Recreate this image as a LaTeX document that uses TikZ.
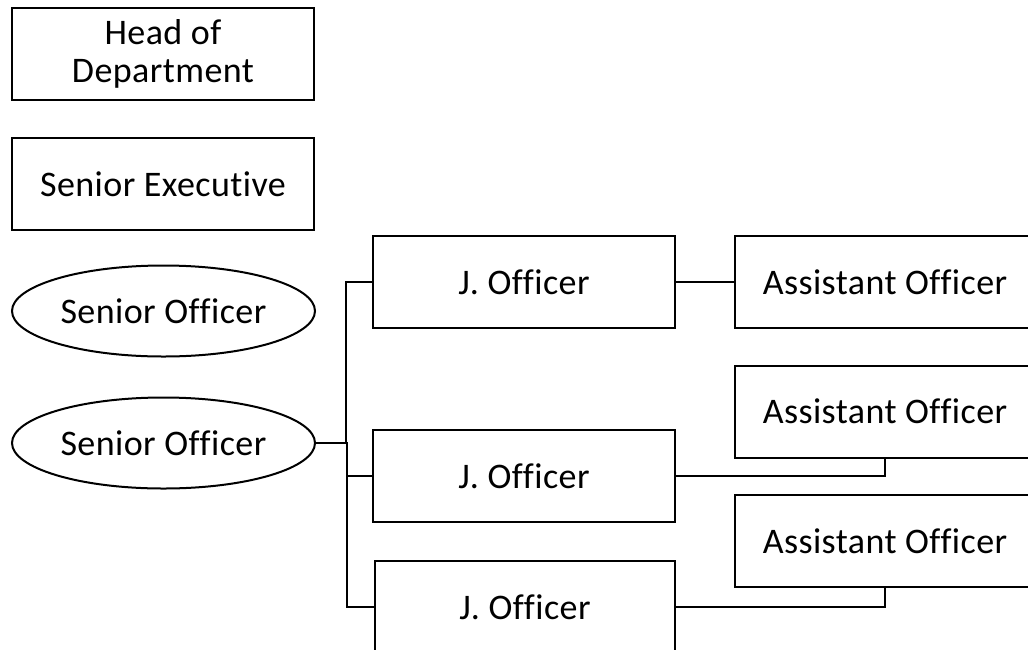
\documentclass[tikz,border=0pt]{standalone}
\usepackage{fontspec}
\setmainfont[Ligatures=NoCommon,LetterSpace=1.2]{Carlito}
\usetikzlibrary{shapes.geometric}
\begin{document}
\begin{tikzpicture}[x=1pt,y=-1pt,
  every node/.style={font=\fontsize{36}{38.5}\selectfont},
  box/.style={draw,line width=2pt,rectangle,inner sep=0pt,minimum width=302pt,minimum height=92pt,align=center},
  oval/.style={draw,line width=2pt,ellipse,inner sep=0pt,minimum width=303pt,minimum height=91pt},
  link/.style={line width=2pt}]
\clip (0,0) rectangle (1028,649);
\fill[white] (0,0) rectangle (1028,649);
\node[box] (hod) at (163,54) {Head of\\Department};
\node[box] (se) at (163,184) {Senior Executive};
\node[oval] (so1) at (163.5,311) {Senior Officer};
\node[oval] (so2) at (163.5,443) {Senior Officer};
\node[box] (j1) at (524,282) {J. Officer};
\node[box] (j2) at (524,476) {J. Officer};
\node[box,minimum width=300pt] (j3) at (525,607) {J. Officer};
\node[box,minimum width=300pt] (a1) at (885,282) {Assistant Officer};
\node[box,minimum width=300pt] (a2) at (885,411.5) {Assistant Officer};
\node[box,minimum width=300pt] (a3) at (885,541) {Assistant Officer};
\draw[link] (so2.east) -- ++(30,0) |- (j1.west);
\draw[link] (so2.east) -- ++(31,0) |- (j2.west);
\draw[link] (so2.east) -- ++(31,0) |- (j3.west);
\draw[link] (j1.east) -- (a1.west);
\draw[link] (j2.east) -| (a2.south);
\draw[link] (j3.east) -| (a3.south);
\end{tikzpicture}
\end{document}
